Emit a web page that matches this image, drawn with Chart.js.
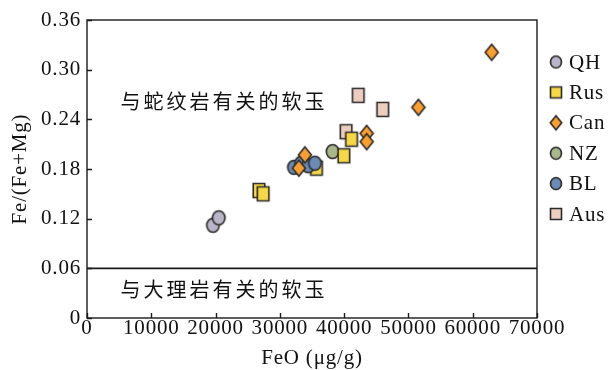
<!DOCTYPE html>
<html><head><meta charset="utf-8">
<script src="https://cdn.jsdelivr.net/npm/chart.js@4.4.1/dist/chart.umd.min.js"></script>
<style>html,body{margin:0;padding:0;background:#fff;overflow:hidden}</style>
</head><body>
<canvas id="c" width="608" height="370" style="display:block;width:608px;height:370px"></canvas>
<script>
// ---- data ----
const seriesNames = ['QH', 'Rus', 'Can', 'NZ', 'BL', 'Aus'];
const qhX  = [19600, 20500];
const qhY  = [0.112, 0.121];
const rusX = [26750, 27400, 35700, 39950, 41150];
const rusY = [0.154, 0.150, 0.181, 0.196, 0.216];
const canX = [33900, 32950, 43500, 43500, 51550, 62950];
const canY = [0.197, 0.181, 0.223, 0.213, 0.2545, 0.321];
const nzX  = [38200];
const nzY  = [0.201];
const blX  = [32200, 33300, 34400, 35450];
const blY  = [0.182, 0.187, 0.184, 0.187];
const ausX = [42200, 46000, 40300];
const ausY = [0.269, 0.252, 0.225];
const xTicks = [0, 10000, 20000, 30000, 40000, 50000, 60000, 70000];
const yTicks = [0, 0.06, 0.12, 0.18, 0.24, 0.30, 0.36];
const boundaryValue = 0.06;
const regionLabels = ['与蛇纹岩有关的软玉', '与大理岩有关的软玉'];
const regionLabelX = [21300, 21300];
const regionLabelY = [0.262, 0.034];

// ---- styling ----
const SERIF = '"Liberation Serif", "Times New Roman", serif';
const FS = 21;
const fills = ['#b9b4c8', '#f5d843', '#f99e2f', '#a9b78b', '#6b8ab6', '#edcdc0'];
const shapes = ['circle', 'rect', 'diamond', 'circle', 'circle', 'rect'];
const drawOrder = [4, 3, 1, 5, 2, 6];
const sizes = {circle: [12.5, 14], rect: [11.5, 14], diamond: [13, 16]};
const legendSizes = {circle: [11, 12], rect: [11, 11], diamond: [11.5, 14]};

function marker(shape, fill, w, h) {
  const lw = 1.6;
  const c = document.createElement('canvas');
  c.width = Math.ceil(w + lw * 2 + 1);
  c.height = Math.ceil(h + lw * 2 + 1);
  const g = c.getContext('2d');
  const cx = c.width / 2, cy = c.height / 2;
  g.beginPath();
  if (shape === 'circle') g.ellipse(cx, cy, w / 2, h / 2, 0, 0, Math.PI * 2);
  else if (shape === 'rect') g.rect(cx - w / 2, cy - h / 2, w, h);
  else { g.moveTo(cx, cy - h / 2); g.lineTo(cx + w / 2, cy); g.lineTo(cx, cy + h / 2); g.lineTo(cx - w / 2, cy); g.closePath(); }
  g.fillStyle = fill; g.fill();
  g.lineWidth = lw; g.strokeStyle = '#2a2a2a'; g.lineJoin = 'miter'; g.stroke();
  return c;
}

const xs = [qhX, rusX, canX, nzX, blX, ausX];
const ys = [qhY, rusY, canY, nzY, blY, ausY];
const datasets = seriesNames.map((name, i) => ({
  label: name,
  order: drawOrder[i],
  data: xs[i].map((x, j) => ({x: x, y: ys[i][j]})),
  pointStyle: marker(shapes[i], fills[i], sizes[shapes[i]][0], sizes[shapes[i]][1]),
  pointRadius: 6,
  pointHoverRadius: 6,
  showLine: false
}));
const legendMarkers = seriesNames.map((n, i) => marker(shapes[i], fills[i], legendSizes[shapes[i]][0], legendSizes[shapes[i]][1]));
datasets.push({
  label: 'boundary',
  order: 9,
  data: [{x: xTicks[0], y: boundaryValue}, {x: xTicks[xTicks.length - 1], y: boundaryValue}],
  showLine: true, borderColor: '#1a1a1a', borderWidth: 1.6, pointRadius: 0, pointHoverRadius: 0
});

const decor = {
  id: 'decor',
  beforeUpdate(chart) { chart.ctx.letterSpacing = '0.8px'; },
  beforeDraw(chart) { chart.ctx.letterSpacing = '0.8px'; },
  beforeDatasetsDraw(chart) {
    const {ctx, chartArea: a, scales: {x, y}} = chart;
    ctx.save();
    ctx.strokeStyle = '#1a1a1a';
    ctx.lineWidth = 1.4;
    ctx.strokeRect(a.left, a.top, a.right - a.left, a.bottom - a.top);
    ctx.beginPath();
    xTicks.forEach(v => { const p = Math.round(x.getPixelForValue(v)) + 0.5; ctx.moveTo(p, a.bottom); ctx.lineTo(p, a.bottom - 5); });
    yTicks.forEach(v => { const p = Math.round(y.getPixelForValue(v)) + 0.5; ctx.moveTo(a.left, p); ctx.lineTo(a.left + 5, p); });
    ctx.stroke();
    ctx.restore();
  },
  afterDraw(chart) {
    const {ctx, chartArea: a, scales: {x, y}} = chart;
    ctx.save();
    ctx.fillStyle = '#111';
    ctx.textBaseline = 'middle';
    ctx.textAlign = 'center';
    ctx.font = '20px "Noto Sans CJK SC", sans-serif';
    ctx.letterSpacing = '3px';
    regionLabels.forEach((t, i) => ctx.fillText(t, x.getPixelForValue(regionLabelX[i]), y.getPixelForValue(regionLabelY[i])));
    // legend
    ctx.letterSpacing = '0.8px';
    ctx.textAlign = 'left';
    ctx.font = FS + 'px ' + SERIF;
    seriesNames.forEach((n, i) => {
      const ly = 62 + i * 30.4;
      const m = legendMarkers[i];
      ctx.drawImage(m, 556 - m.width / 2, ly - m.height / 2);
      ctx.fillText(n, 569, ly + 1);
    });
    ctx.restore();
  }
};

new Chart(document.getElementById('c'), {
  type: 'scatter',
  data: {datasets: datasets},
  plugins: [decor],
  options: {
    responsive: false,
    animation: false,
    devicePixelRatio: 1,
    layout: {padding: {left: 0, right: 71, top: 20, bottom: 0}},
    plugins: {legend: {display: false}, tooltip: {enabled: false}},
    scales: {
      x: {
        type: 'linear', min: 0, max: 70000,
        afterBuildTicks: s => { s.ticks = xTicks.map(v => ({value: v})); },
        afterFit: s => { s.height = 52; },
        grid: {display: false, drawTicks: false},
        border: {display: false},
        ticks: {color: '#111', font: {family: SERIF, size: FS}, maxRotation: 0, autoSkip: false, padding: -2,
                callback: v => String(v)},
        title: {display: true, text: 'FeO (μg/g)', color: '#111', font: {family: SERIF, size: FS}, padding: {top: 0, bottom: -1}}
      },
      y: {
        type: 'linear', min: 0, max: 0.36,
        afterBuildTicks: s => { s.ticks = yTicks.map(v => ({value: v})); },
        afterFit: s => { s.width = 87; },
        grid: {display: false, drawTicks: false},
        border: {display: false},
        ticks: {color: '#111', font: {family: SERIF, size: FS}, padding: 6,
                callback: v => v === 0 ? '0' : v.toFixed(2)},
        title: {display: true, text: 'Fe/(Fe+Mg)', color: '#111', font: {family: SERIF, size: FS}, padding: {top: 8, bottom: 0}}
      }
    }
  }
});
</script>
</body></html>
